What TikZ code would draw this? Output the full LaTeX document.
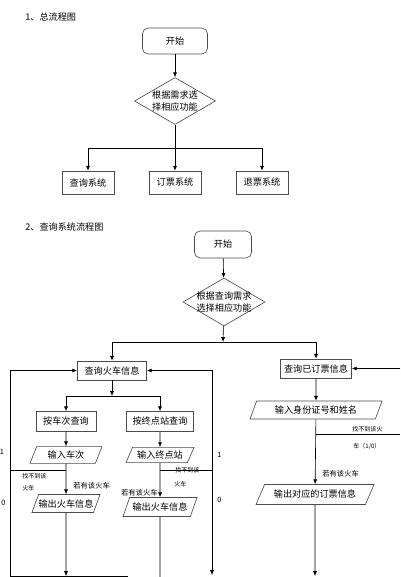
\documentclass[tikz,border=0pt]{standalone}
\usepackage{fontspec}
\newfontfamily\cjk{Noto Sans CJK SC}
\usetikzlibrary{arrows.meta,shapes.geometric}

\begin{document}
\begin{tikzpicture}[x=0.025cm, y=-0.025cm, every node/.style={font=\cjk\fontsize{6.5}{8.5}\selectfont}, >={Latex[length=1.2mm,width=1mm]}, line width=0.45pt,
	bx/.style={draw=black!70, inner sep=0pt},
	st/.style={bx, rounded corners=4pt},
	dm/.style={bx, diamond},
	io/.style={bx, trapezium, trapezium left angle=52, trapezium right angle=128, trapezium stretches body},
	lb/.style={inner sep=0pt, anchor=west, font=\cjk\fontsize{5.2}{6}\selectfont},
	sm/.style={inner sep=0pt, anchor=west, font=\cjk\fontsize{4.3}{5}\selectfont}]
	\useasboundingbox (0,0) rectangle (400,577);
	% 1
	\node[anchor=west, inner sep=0pt] (t1) at (25,17) {1、总流程图};
	\node[st, minimum width=1.625cm, minimum height=0.65cm] (s1) at (175,41) {开始};
	\node[dm, minimum width=2.025cm, minimum height=1.175cm, label={[align=center, inner sep=0pt]center:根据需求选\\择相应功能}] (d1) at (175,101) {};
	\node[bx, minimum width=1.3cm, minimum height=0.575cm] (b1) at (88,182.5) {查询系统};
	\node[bx, minimum width=1.3cm, minimum height=0.575cm] (b2) at (175,182.5) {订票系统};
	\node[bx, minimum width=1.3cm, minimum height=0.575cm] (b3) at (262,182.5) {退票系统};
	\coordinate (j1) at (175,148);
	\draw[->] (s1) -- (d1);
	\draw (d1) -- (j1);
	\draw[->] (j1) -| (b1); \draw[->] (j1) -- (b2); \draw[->] (j1) -| (b3);
	% 2
	\node[anchor=west, inner sep=0pt] (t2) at (25,227) {2、查询系统流程图};
	\node[st, minimum width=1.425cm, minimum height=0.675cm] (s2) at (223,244.5) {开始};
	\node[dm, minimum width=2.05cm, minimum height=1.2cm, label={[align=center, inner sep=0pt]center:根据查询需求\\选择相应功能}] (d2) at (224,302) {};
	\node[bx, minimum width=1.725cm, minimum height=0.475cm] (q1) at (112,370.5) {查询火车信息};
	\node[bx, minimum width=1.775cm, minimum height=0.475cm] (q2) at (316,368.5) {查询已订票信息};
	\node[bx, minimum width=1.5cm, minimum height=0.5cm] (c1) at (66,421.5) {按车次查询};
	\node[bx, minimum width=1.675cm, minimum height=0.5cm] (c2) at (160,421.5) {按终点站查询};
	\node[io, minimum width=1.8cm, minimum height=0.42cm] (i1) at (66,455) {输入车次};
	\node[io, minimum width=1.7cm, minimum height=0.38cm] (i2) at (160,455) {输入终点站};
	\node[io, minimum width=1.65cm, minimum height=0.45cm] (o1) at (66,503.5) {输出火车信息};
	\node[io, minimum width=1.85cm, minimum height=0.475cm] (o2) at (160,507) {输出火车信息};
	\node[io, minimum width=3.3cm, minimum height=0.45cm] (p1) at (316,410) {输入身份证号和姓名};
	\node[io, trapezium left angle=45, trapezium right angle=135, minimum width=2.95cm, minimum height=0.5cm] (p2) at (315,494.5) {输出对应的订票信息};
	\coordinate (j2) at (223,342);
	\coordinate (j3) at (112,396);
	\coordinate (r0) at (400,368.5);
	\coordinate (l1) at (10,576);
	\coordinate (lb) at (128,576);
	\coordinate (rb) at (212,575);
	\coordinate (k1) at (10,470);
	\coordinate (k2) at (212,470);
	\coordinate (k3) at (400,434);
	\coordinate (ob1) at (66,576);
	\coordinate (ob2) at (160,577);
	\coordinate (pb) at (315,576);
	\draw[->] (s2) -- (d2);
	\draw[->] (d2) -- (j2);
	\draw[->] (j2) -| (q1); \draw[->] (j2) -| (q2);
	\draw[->] (r0) -- (q2);
	\draw[<-] (q1) -| (l1) -- (lb);
	\draw[<->] (q1) -| (rb);
	\draw[->] (q1) -- (j3);
	\draw[->] (j3) -| (c1); \draw[->] (j3) -| (c2);
	\draw[->] (c1) -- (i1); \draw[->] (c2) -- (i2);
	\draw[->] (i1) -- (o1); \draw[->] (i2) -- (o2);
	\draw (k1 -| i1) -- (k1); \draw (k2 -| i2) -- (k2);
	\draw[->] (o1) -- (ob1); \draw (o2) -- (ob2);
	\draw[->] (q2) -- (p1); \draw[->] (p1) -- (p2);
	\draw (k3 -| p1) -- (k3);
	\draw[->] (p2) -- (pb);
	\node[sm] (n1) at (22,476) {找不到该};
	\node[sm] (n2) at (22,488) {火车};
	\node[lb] (y1) at (73,486) {若有该火车};
	\node[sm] (n3) at (175,470) {找不到该};
	\node[sm] (n4) at (174,484) {火车};
	\node[lb, anchor=east] (y2) at (158,493) {若有该火车};
	\node[sm] (n5) at (352,429) {找不到该火};
	\node[sm] (n6) at (353,446) {车（1/0）};
	\node[lb] (y3) at (322,474) {若有该火车};
	\node[lb] (e1) at (-0.5,452) {1};
	\node[lb] (e2) at (1,503) {0};
	\node[lb] (e3) at (217,455) {1};
	\node[lb] (e4) at (217,500) {0};
\end{tikzpicture}
\end{document}
